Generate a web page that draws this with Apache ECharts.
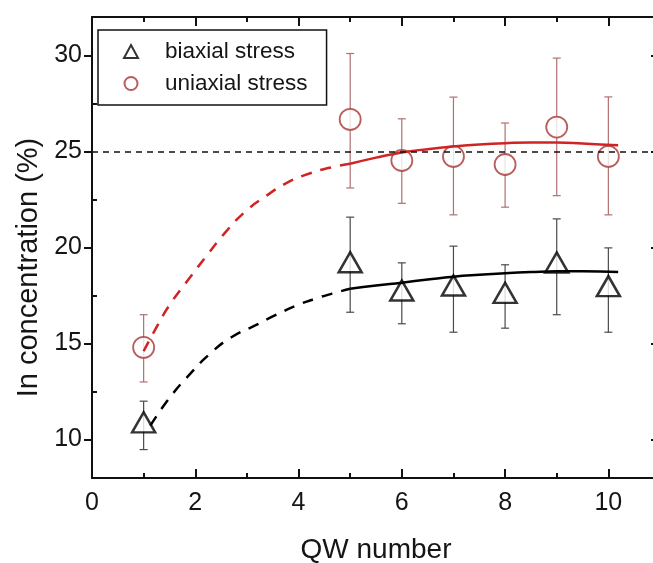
<!DOCTYPE html>
<html>
<head>
<meta charset="utf-8">
<script src="https://cdn.jsdelivr.net/npm/echarts@6/dist/echarts.min.js"></script>
<style>
html,body{margin:0;padding:0;background:#fff;}
#chart{width:653px;height:563px;}
</style>
</head>
<body>
<div id="chart"></div>
<script>
// ---- data ----
const qw = [1, 5, 6, 7, 8, 9, 10];

const biaxial     = [10.9, 19.23, 17.76, 18.02, 17.64, 19.22, 17.99];
const biaxialLow  = [9.48, 16.63, 16.03, 15.59, 15.8, 16.5, 15.59];
const biaxialHigh = [12.0, 21.58, 19.2, 20.07, 19.1, 21.49, 19.98];

const uniaxial     = [14.8, 26.67, 24.53, 24.74, 24.32, 26.27, 24.74];
const uniaxialLow  = [13.0, 23.1, 22.3, 21.7, 22.1, 22.7, 21.7];
const uniaxialHigh = [16.5, 30.1, 26.7, 27.83, 26.48, 29.86, 27.84];

const uniFitDashX = [1.0, 1.25, 1.5, 1.9, 2.2, 2.57, 2.96, 3.38, 3.8, 4.21, 4.6, 5.0];
const uniFitDashY = [14.6, 15.85, 17.0, 18.45, 19.5, 20.75, 21.85, 22.7, 23.4, 23.85, 24.15, 24.36];
const uniFitSolidX = [5.0, 5.5, 6.0, 6.5, 7.0, 7.5, 8.0, 8.5, 9.0, 9.5, 10.19];
const uniFitSolidY = [24.36, 24.68, 24.95, 25.12, 25.26, 25.36, 25.43, 25.47, 25.47, 25.42, 25.32];

const biFitDashX = [1.13, 1.51, 1.9, 2.28, 2.7, 3.16, 3.54, 3.96, 4.32, 4.65, 5.0];
const biFitDashY = [10.73, 12.2, 13.42, 14.46, 15.33, 15.94, 16.46, 16.98, 17.33, 17.6, 17.85];
const biFitSolidX = [5.0, 5.5, 6.0, 6.5, 7.0, 7.5, 8.0, 8.5, 9.0, 9.5, 10.19];
const biFitSolidY = [17.85, 18.02, 18.17, 18.33, 18.48, 18.58, 18.66, 18.72, 18.76, 18.76, 18.72];

const refLevel = 25;

const xMajorTicks = [0, 2, 4, 6, 8, 10];
const xMinorTicks = [1, 3, 5, 7, 9];
const yMajorTicks = [10, 15, 20, 25, 30];
const yMinorTicks = [12.5, 17.5, 22.5, 27.5];

const xRange = [0, 11];
const yRange = [8, 32];

// ---- chart ----
const FONT = "'Liberation Sans', Arial, sans-serif";
const TXT = '#151515';
const RED_LINE = '#d02424';
const RED_MARK = '#a83434';
const RED_BAR = '#b07070';
const BLK_BAR = '#4a4a4a';

const chart = echarts.init(document.getElementById('chart'), null, {renderer: 'canvas'});

function pairs(xs, ys) { return xs.map((x, i) => [x, ys[i]]); }

function errorRender(color) {
  return function (params, api) {
    const x = api.value(0), lo = api.value(1), hi = api.value(2);
    const a = api.coord([x, lo]), b = api.coord([x, hi]);
    const cap = 4;
    const st = {stroke: color, lineWidth: 1.2};
    return {
      type: 'group',
      children: [
        {type: 'line', shape: {x1: a[0], y1: a[1], x2: b[0], y2: b[1]}, style: st},
        {type: 'line', shape: {x1: a[0] - cap, y1: a[1], x2: a[0] + cap, y2: a[1]}, style: st},
        {type: 'line', shape: {x1: b[0] - cap, y1: b[1], x2: b[0] + cap, y2: b[1]}, style: st}
      ]
    };
  };
}

function xAx(pos, ticks, len, showLine, showLabel, extra) {
  return Object.assign({
    type: 'value', position: pos, min: xRange[0], max: xRange[1],
    axisLine: {show: showLine, onZero: false, lineStyle: {color: '#111', width: 2}},
    axisTick: {show: true, inside: true, length: len, customValues: ticks, lineStyle: {color: '#111', width: 2}},
    axisLabel: showLabel ? {show: true, customValues: ticks, fontFamily: FONT, fontSize: 25, color: TXT, margin: 13}
                         : {show: false},
    splitLine: {show: false}
  }, extra || {});
}
function yAx(pos, ticks, len, inside, showLine, showLabel, extra) {
  return Object.assign({
    type: 'value', position: pos, min: yRange[0], max: yRange[1],
    axisLine: {show: showLine, onZero: false, lineStyle: {color: '#111', width: 2}},
    axisTick: {show: true, inside: inside, length: len, customValues: ticks, lineStyle: {color: '#111', width: 2}},
    axisLabel: showLabel ? {show: true, customValues: ticks, fontFamily: FONT, fontSize: 25, color: TXT, margin: 10}
                         : {show: false},
    splitLine: {show: false}
  }, extra || {});
}

const option = {
  animation: false,
  backgroundColor: '#fff',
  grid: {left: 92, top: 17, right: -7, bottom: 85, outerBoundsMode: 'none', containLabel: false},
  legend: {
    left: 98, top: 30, orient: 'vertical',
    data: ['biaxial stress', 'uniaxial stress'],
    backgroundColor: '#fff', borderColor: '#111', borderWidth: 1.5,
    padding: [10, 19, 10, 25], itemGap: 9,
    itemWidth: 14, itemHeight: 13,
    textStyle: {fontFamily: FONT, fontSize: 22.5, color: TXT, padding: [0, 0, 0, 22], lineHeight: 22}
  },
  xAxis: [
    xAx('bottom', xMajorTicks, 9, true, true, {
      name: 'QW number', nameLocation: 'middle', nameGap: 58,
      nameTextStyle: {fontFamily: FONT, fontSize: 28, color: TXT}
    }),
    xAx('bottom', xMinorTicks, 5, false, false),
    xAx('top', xMajorTicks, 9, true, false),
    xAx('top', xMinorTicks, 5, false, false)
  ],
  yAxis: [
    yAx('left', yMajorTicks, 8, false, true, true, {
      name: 'In concentration (%)', nameLocation: 'middle', nameGap: 49,
      nameTextStyle: {fontFamily: FONT, fontSize: 29, color: TXT, padding: [0, 40, 0, 0]}
    }),
    yAx('left', yMinorTicks, 5, true, false, false),
    yAx('right', yMajorTicks, 9, true, true, false),
    yAx('right', yMinorTicks, 5, true, false, false)
  ],
  series: [
    {
      type: 'custom', name: 'uniErr', z: 1, silent: true,
      renderItem: errorRender(RED_BAR),
      data: qw.map((x, i) => [x, uniaxialLow[i], uniaxialHigh[i]])
    },
    {
      type: 'custom', name: 'biErr', z: 1, silent: true,
      renderItem: errorRender(BLK_BAR),
      data: qw.map((x, i) => [x, biaxialLow[i], biaxialHigh[i]])
    },
    {
      type: 'scatter', name: 'biaxial stress', z: 2,
      symbol: 'triangle', symbolSize: [23, 20],
      itemStyle: {color: '#fff', borderColor: '#000', borderWidth: 2.5},
      data: pairs(qw, biaxial)
    },
    {
      type: 'scatter', name: 'uniaxial stress', z: 2,
      symbol: 'circle', symbolSize: 21,
      itemStyle: {color: '#fff', borderColor: RED_MARK, borderWidth: 1.8},
      data: pairs(qw, uniaxial)
    },
    {
      type: 'line', name: 'uniFitDash', z: 3, smooth: true, showSymbol: false, symbol: 'none',
      lineStyle: {color: RED_LINE, width: 2.5, type: [11, 9]},
      data: pairs(uniFitDashX, uniFitDashY)
    },
    {
      type: 'line', name: 'uniFitSolid', z: 3, smooth: true, showSymbol: false, symbol: 'none',
      lineStyle: {color: RED_LINE, width: 2.5},
      data: pairs(uniFitSolidX, uniFitSolidY)
    },
    {
      type: 'line', name: 'biFitDash', z: 3, smooth: true, showSymbol: false, symbol: 'none',
      lineStyle: {color: '#000', width: 2.5, type: [11, 9]},
      data: pairs(biFitDashX, biFitDashY)
    },
    {
      type: 'line', name: 'biFitSolid', z: 3, smooth: true, showSymbol: false, symbol: 'none',
      lineStyle: {color: '#000', width: 2.5},
      data: pairs(biFitSolidX, biFitSolidY),
      markLine: {
        silent: true, symbol: ['none', 'none'], label: {show: false},
        lineStyle: {color: '#111', width: 1.5, type: [6, 5]},
        data: [{yAxis: refLevel}]
      }
    }
  ]
};
chart.setOption(option);
</script>
</body>
</html>
